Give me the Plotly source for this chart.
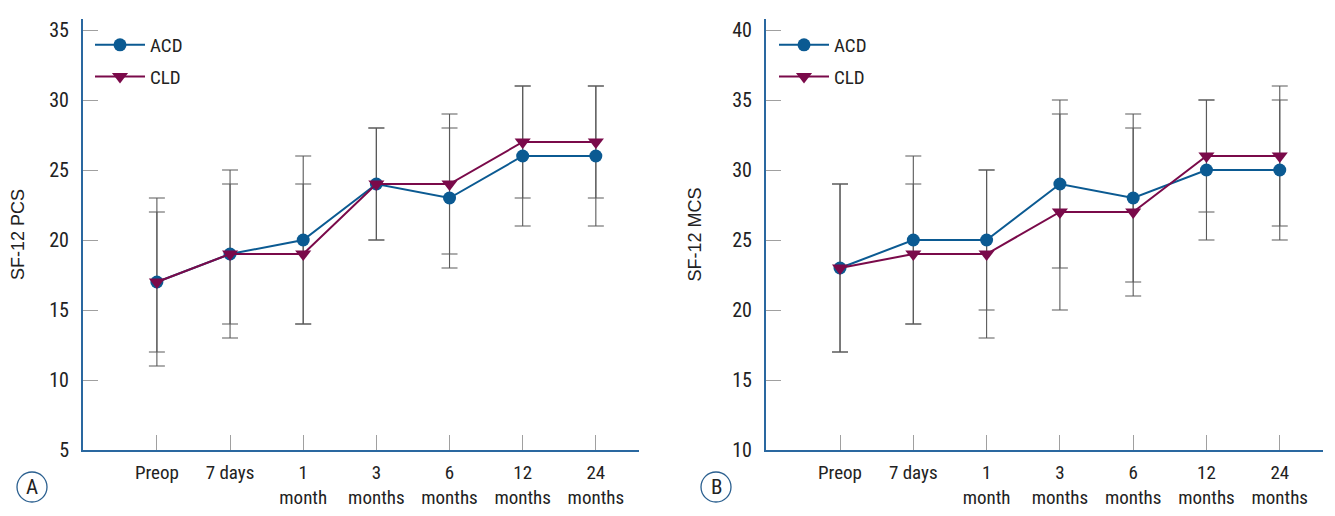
import plotly.graph_objects as go

# ---- data ----
time_labels = ["Preop", "7 days", "1<br>month", "3<br>months", "6<br>months", "12<br>months", "24<br>months"]
x_idx = list(range(len(time_labels)))

pcs_acd = [17, 19, 20, 24, 23, 26, 26]
pcs_acd_sd = [6, 6, 6, 4, 5, 5, 5]
pcs_cld = [17, 19, 19, 24, 24, 27, 27]
pcs_cld_sd = [5, 5, 5, 4, 5, 4, 4]

mcs_acd = [23, 25, 25, 29, 28, 30, 30]
mcs_acd_sd = [6, 6, 5, 6, 6, 5, 5]
mcs_cld = [23, 24, 24, 27, 27, 31, 31]
mcs_cld_sd = [6, 5, 6, 7, 6, 4, 5]

pcs_ticks = [5, 10, 15, 20, 25, 30, 35]
mcs_ticks = [10, 15, 20, 25, 30, 35, 40]

# ---- style ----
OFF = 8  # body margin of the html page
W, H = 1335 - OFF, 516 - OFF
ACD_COLOR = "#0b5a92"
CLD_COLOR = "#7a0a4a"
AXIS_COLOR = "#2a68a0"
ERR_COLOR = "#5a5a5a"
COND = "Roboto Condensed, Roboto, sans-serif"


def px_x(p):
    return (p - OFF) / W


def px_y(p):
    return (H - (p - OFF)) / H


fig = go.Figure()

panels = [
    dict(xa="x", ya="y", legend="legend", acd=pcs_acd, acd_sd=pcs_acd_sd, cld=pcs_cld, cld_sd=pcs_cld_sd),
    dict(xa="x2", ya="y2", legend="legend2", acd=mcs_acd, acd_sd=mcs_acd_sd, cld=mcs_cld, cld_sd=mcs_cld_sd),
]

for p in panels:
    for vals, sd in ((p["acd"], p["acd_sd"]), (p["cld"], p["cld_sd"])):
        fig.add_trace(go.Scatter(
            x=x_idx, y=vals, mode="markers", xaxis=p["xa"], yaxis=p["ya"],
            marker=dict(size=1, color="rgba(0,0,0,0)"),
            error_y=dict(type="data", array=sd, visible=True, color=ERR_COLOR, thickness=1.1, width=8),
            showlegend=False, hoverinfo="skip",
        ))
    fig.add_trace(go.Scatter(
        x=x_idx, y=p["acd"], mode="lines+markers", name="ACD", xaxis=p["xa"], yaxis=p["ya"],
        line=dict(color=ACD_COLOR, width=2),
        marker=dict(symbol="circle", size=13, color=ACD_COLOR),
        legend=p["legend"], legendgroup=p["legend"] + "a",
    ))
    fig.add_trace(go.Scatter(
        x=x_idx, y=p["cld"], mode="lines+markers", name="CLD", xaxis=p["xa"], yaxis=p["ya"],
        line=dict(color=CLD_COLOR, width=2),
        marker=dict(symbol="triangle-down", size=14, color=CLD_COLOR),
        legend=p["legend"], legendgroup=p["legend"] + "c",
    ))

xcommon = dict(
    tickmode="array", tickvals=x_idx, ticktext=time_labels,
    range=[-1.01, 6.59], showgrid=False, zeroline=False,
    showline=True, linecolor=AXIS_COLOR, linewidth=2,
    ticks="inside", ticklen=15, tickcolor="#a0a0a0", tickwidth=1,
    tickfont=dict(family=COND, size=19, color="#222"),
    ticklabelstandoff=4,
)
ycommon = dict(
    showgrid=False, zeroline=False,
    showline=True, linecolor=AXIS_COLOR, linewidth=2,
    ticks="inside", ticklen=15, tickcolor="#a0a0a0", tickwidth=1,
    tickfont=dict(family=COND, size=20, color="#222"),
    ticklabelstandoff=8, automargin=False,
    title=dict(font=dict(family="Liberation Sans, Arial, sans-serif", size=18, color="#222"), standoff=26),
)

ybot, ytop = px_y(450), px_y(19)

legend_common = dict(xanchor="left", yanchor="top", bgcolor="rgba(0,0,0,0)", itemwidth=50,
                     tracegroupgap=4, font=dict(family=COND, size=19, color="#222"))

fig.update_layout(
    width=W, height=H,
    margin=dict(l=0, r=0, t=0, b=0),
    paper_bgcolor="white", plot_bgcolor="white",
    xaxis=dict(xcommon, domain=[px_x(83), px_x(639)], anchor="y"),
    yaxis=dict(ycommon, domain=[ybot, ytop], anchor="x", range=[5, 5 + (450 - 19) / 14],
               tickvals=pcs_ticks, title_text="SF-12 PCS"),
    xaxis2=dict(xcommon, domain=[px_x(766), px_x(1323)], anchor="y2"),
    yaxis2=dict(ycommon, domain=[ybot, ytop], anchor="x2", range=[10, 10 + (450 - 19) / 14],
                tickvals=mcs_ticks, title_text="SF-12 MCS"),
    legend=dict(legend_common, x=px_x(90), y=px_y(26)),
    legend2=dict(legend_common, x=px_x(774), y=px_y(26)),
    showlegend=True,
)

for letter, cx in (("A", 32), ("B", 716)):
    cy = 487
    r = 15
    fig.add_shape(type="circle", xref="paper", yref="paper",
                  x0=px_x(cx - r), x1=px_x(cx + r), y0=px_y(cy + r), y1=px_y(cy - r),
                  line=dict(color="#2a5f8f", width=1.3))
    fig.add_annotation(text=letter, xref="paper", yref="paper", x=px_x(cx), y=px_y(cy),
                       xanchor="center", yanchor="middle", showarrow=False,
                       font=dict(family=COND, size=21, color="#222"))

fig.write_html("out.html")
